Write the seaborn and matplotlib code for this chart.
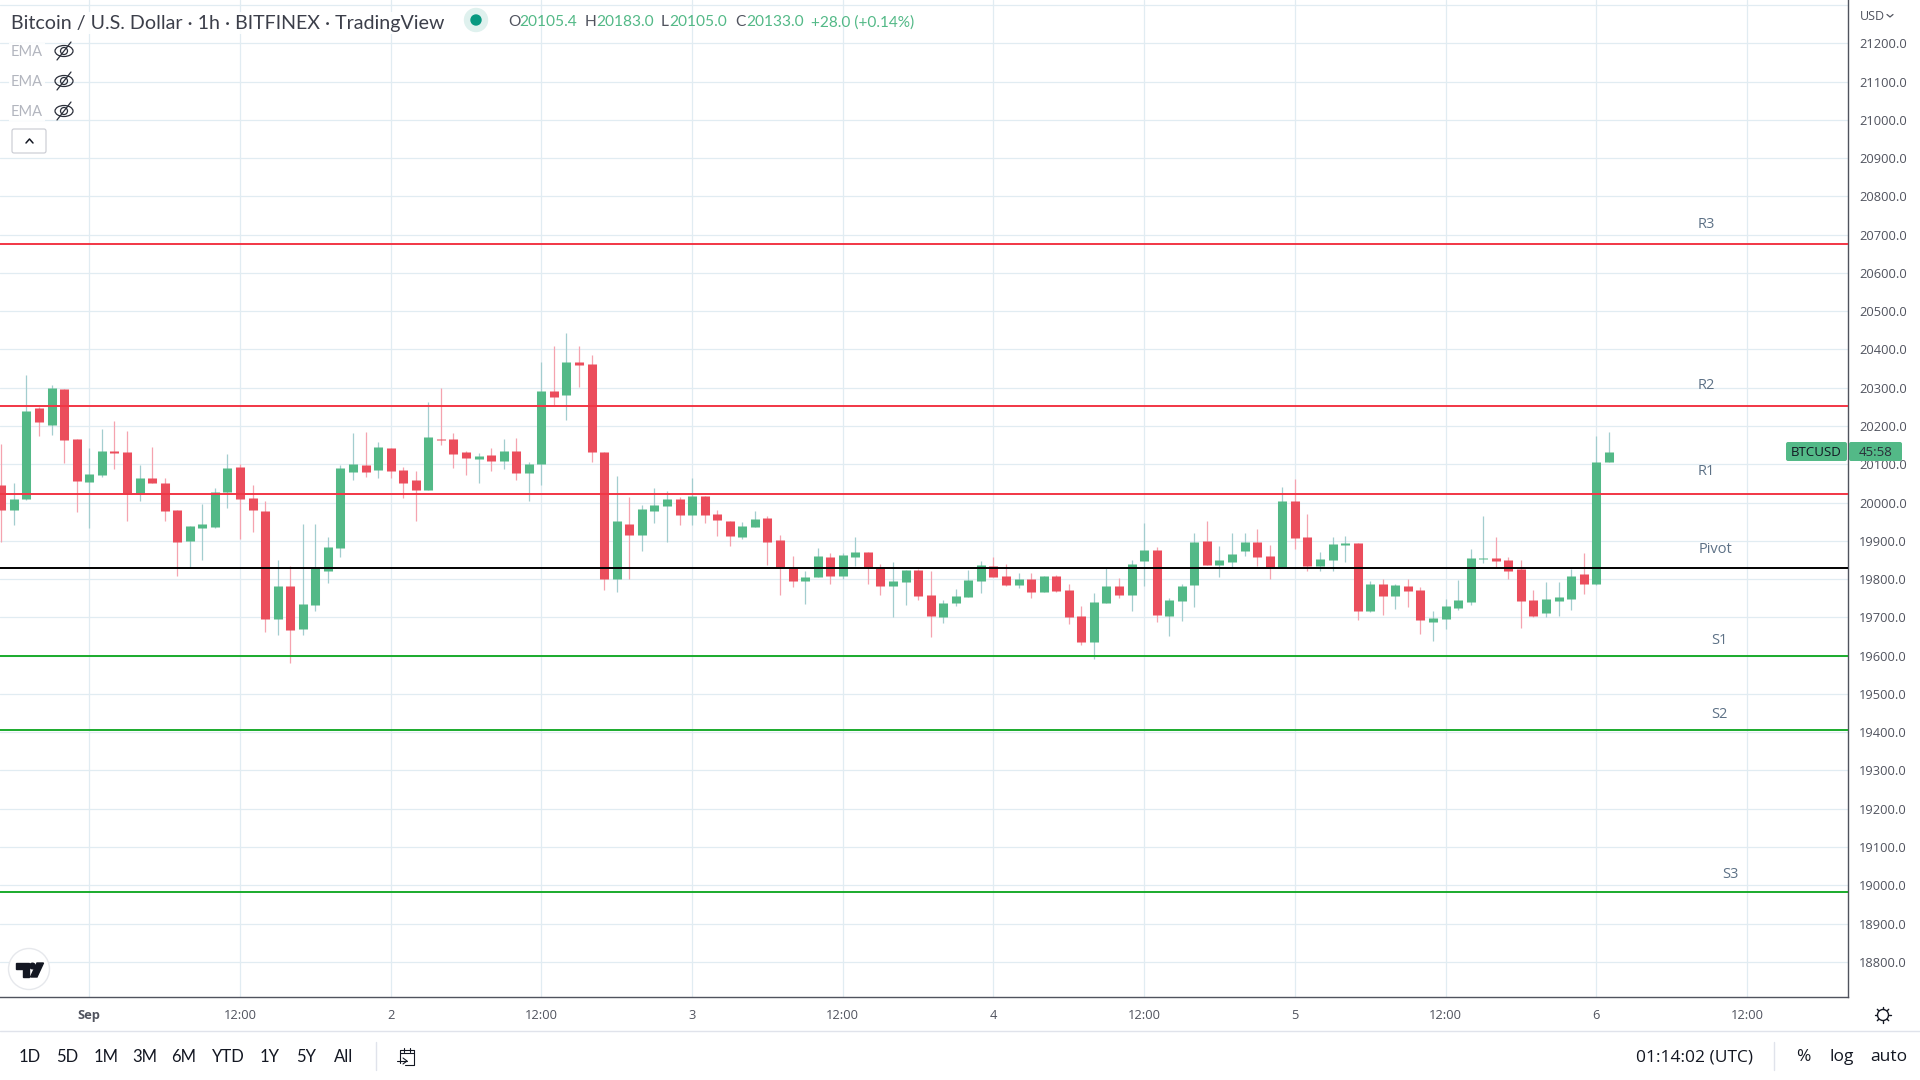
import matplotlib
matplotlib.use("Agg")
import matplotlib.pyplot as plt
import matplotlib.patches as mpatches
import pandas as pd
import seaborn as sns

# Hourly candles, hour 0 = 1 Sep 00:00
hours = list(range(-7, 122))
opens = [20046, 19980, 20009, 20247, 20203, 20297, 20166, 20054, 20072, 20135, 20132, 20022, 20064, 20051, 19980, 19900,
         19933, 19936, 20028, 20093, 20012, 19978, 19696, 19782, 19670, 19732, 19821, 19881, 20080, 20098, 20085, 20142,
         20085, 20059, 20033, 20166, 20166, 20132, 20114, 20124, 20109, 20135, 20077, 20101, 20291, 20281, 20367, 20362,
         20132, 19800, 19944, 19915, 19978, 19991, 20009, 19967, 20017, 19970, 19952, 19910, 19936, 19960, 19902, 19829,
         19795, 19805, 19858, 19808, 19858, 19871, 19829, 19782, 19792, 19824, 19758, 19701, 19738, 19753, 19795, 19834,
         19808, 19785, 19800, 19766, 19808, 19772, 19704, 19636, 19738, 19782, 19758, 19847, 19876, 19704, 19743, 19785,
         19900, 19837, 19845, 19873, 19897, 19860, 19832, 20004, 19910, 19834, 19850, 19889, 19894, 19717, 19787, 19756,
         19782, 19772, 19688, 19696, 19724, 19740, 19853, 19855, 19850, 19826, 19745, 19711, 19743, 19748, 19813, 19787,
         20105]
closes = [19980, 20009, 20239, 20210, 20299, 20163, 20056, 20075, 20135, 20129, 20022, 20064, 20051, 19978, 19897, 19939,
          19944, 20028, 20090, 20009, 19980, 19696, 19782, 19667, 19735, 19829, 19884, 20090, 20101, 20080, 20145, 20082,
          20051, 20033, 20171, 20163, 20127, 20116, 20122, 20109, 20135, 20077, 20101, 20291, 20276, 20367, 20359, 20132,
          19800, 19952, 19915, 19983, 19994, 20009, 19967, 20017, 19967, 19954, 19913, 19939, 19957, 19897, 19829, 19795,
          19805, 19860, 19808, 19863, 19871, 19829, 19782, 19795, 19824, 19756, 19704, 19738, 19756, 19798, 19837, 19806,
          19785, 19800, 19766, 19808, 19769, 19701, 19636, 19740, 19782, 19758, 19839, 19876, 19706, 19745, 19782, 19897,
          19837, 19850, 19866, 19897, 19858, 19832, 20004, 19907, 19834, 19853, 19892, 19894, 19717, 19787, 19756, 19785,
          19769, 19693, 19698, 19730, 19745, 19855, 19855, 19847, 19821, 19743, 19704, 19748, 19753, 19808, 19787, 20106,
          20133]
highs = [20153, 20051, 20333, 20250, 20307, 20297, 20166, 20142, 20192, 20213, 20187, 20098, 20145, 20064, 19980, 19939,
         19996, 20038, 20127, 20101, 20046, 20004, 19850, 19834, 19944, 19944, 19910, 20098, 20182, 20184, 20158, 20142,
         20093, 20082, 20263, 20299, 20182, 20135, 20129, 20142, 20166, 20169, 20106, 20367, 20409, 20443, 20409, 20385,
         20132, 20069, 20014, 19994, 20038, 20030, 20014, 20064, 20017, 19980, 19952, 19949, 19978, 19965, 19915, 19860,
         19821, 19881, 19868, 19868, 19910, 19871, 19839, 19845, 19824, 19826, 19821, 19745, 19774, 19824, 19847, 19858,
         19839, 19816, 19816, 19808, 19811, 19787, 19730, 19764, 19829, 19803, 19850, 19947, 19884, 19751, 19787, 19920,
         19952, 19887, 19920, 19920, 19931, 19889, 20041, 20062, 19970, 19871, 19910, 19913, 19894, 19795, 19800, 19787,
         19800, 19779, 19717, 19748, 19798, 19879, 19965, 19910, 19858, 19850, 19772, 19792, 19792, 19826, 19868, 20174,
         20183]
lows = [19898, 19941, 20007, 20174, 20176, 20103, 19975, 19933, 20067, 20088, 19952, 20004, 20051, 19952, 19808, 19829,
        19850, 19933, 19986, 19905, 19923, 19662, 19654, 19581, 19654, 19717, 19790, 19858, 20059, 20067, 20064, 20064,
        20012, 19952, 20033, 20150, 20090, 20072, 20051, 20082, 20088, 20059, 20004, 20046, 20255, 20216, 20302, 20106,
        19771, 19766, 19800, 19873, 19947, 19897, 19941, 19941, 19947, 19913, 19886, 19905, 19936, 19837, 19758, 19779,
        19735, 19805, 19787, 19800, 19834, 19787, 19758, 19701, 19732, 19745, 19649, 19685, 19730, 19753, 19764, 19806,
        19782, 19777, 19751, 19766, 19766, 19683, 19628, 19591, 19738, 19751, 19717, 19782, 19688, 19651, 19691, 19727,
        19837, 19806, 19832, 19860, 19834, 19800, 19832, 19879, 19821, 19821, 19821, 19845, 19693, 19714, 19706, 19722,
        19727, 19657, 19638, 19670, 19719, 19732, 19842, 19832, 19800, 19672, 19701, 19701, 19704, 19719, 19761, 19785,
        20105]

# Pivot levels
level_names = ["R3", "R2", "R1", "Pivot", "S1", "S2", "S3"]
level_prices = [20676, 20252, 20022, 19829, 19599, 19406, 18982]
level_colors = ["#f23645", "#f23645", "#f23645", "#000000", "#1aab2c", "#1aab2c", "#1aab2c"]
level_label_hours = [128.8, 128.8, 128.8, 129.5, 129.8, 129.8, 130.7]
level_label_offsets = [14, 14.9, 16.3, 13.1, 11.4, 11.4, 12.8]

price_ticks = list(range(18800, 21300, 100))
time_ticks = list(range(0, 144, 12))
time_labels = ["Sep", "12:00", "2", "12:00", "3", "12:00", "4", "12:00", "5", "12:00", "6", "12:00"]
range_buttons = ["1D", "5D", "1M", "3M", "6M", "YTD", "1Y", "5Y", "All"]
button_x = [30, 67, 106, 145, 184, 228, 270, 306, 344]

GREEN = "#53b987"
RED = "#eb4d5c"
GRID = "#e1ecf2"
AXIS = "#50535e"

sns.set_theme(style="white")
plt.rcParams["font.family"] = ["Open Sans", "DejaVu Sans"]

candles = pd.DataFrame({"hour": hours, "open": opens, "close": closes, "high": highs, "low": lows})
candles["side"] = ["up" if c >= o else "down" for o, c in zip(opens, closes)]

wicks = candles.melt(id_vars=["hour", "side"], value_vars=["high", "low"], value_name="price")
bodies = candles.melt(id_vars=["hour", "side"], value_vars=["open", "close"], value_name="price")

fig = plt.figure(figsize=(19.2, 10.8), dpi=100, facecolor="white")
ax = fig.add_axes([0, 83 / 1080, 1848 / 1920, 997 / 1080])

sns.lineplot(data=wicks, x="hour", y="price", units="hour", hue="side", estimator=None, legend=False,
             palette={"up": "#a3cdcf", "down": "#f5a3af"}, linewidth=0.9, solid_capstyle="butt", ax=ax, zorder=2)
sns.lineplot(data=bodies, x="hour", y="price", units="hour", hue="side", estimator=None, legend=False,
             palette={"up": GREEN, "down": RED}, linewidth=6.5, solid_capstyle="butt", ax=ax, zorder=3)

for name, price, color, hour, offset in zip(level_names, level_prices, level_colors, level_label_hours, level_label_offsets):
    ax.axhline(price, color=color, linewidth=1.4, zorder=4)
    ax.annotate(name, xy=(hour, price), xytext=(0, offset), textcoords="offset points", ha="center", va="center",
                fontsize=10.5, color="#5d7186", annotation_clip=False)

ax.set_xlim(-7.11, 140.05)
ax.set_ylim(18708, 21313)
ax.set_xlabel("")
ax.set_ylabel("")

ax.set_yticks(price_ticks)
ax.set_yticklabels([f"{p}.0" for p in price_ticks], fontsize=9.3, color="#50535e")
ax.set_yticks([21300], minor=True)
ax.yaxis.tick_right()
ax.tick_params(axis="y", which="both", length=0, pad=8)
ax.set_xticks(time_ticks)
ax.set_xticklabels(time_labels, fontsize=9.3, color="#50535e")
ax.get_xticklabels()[0].set_fontweight("bold")
ax.tick_params(axis="x", length=0, pad=8.8)
ax.grid(True, which="both", color=GRID, linewidth=0.9, zorder=0)
ax.set_axisbelow(True)
ax.spines["top"].set_visible(False)
ax.spines["left"].set_visible(False)
for side in ["right", "bottom"]:
    ax.spines[side].set_color(AXIS)
    ax.spines[side].set_linewidth(1.0)

# Overlay in screen pixels for the chart furniture
ui = fig.add_axes([0, 0, 1, 1], zorder=10)
ui.set_xlim(0, 1920)
ui.set_ylim(1080, 0)
ui.axis("off")
ui.patch.set_alpha(0)

white_box = dict(facecolor="white", edgecolor="none", pad=1.5, alpha=0.9)
ui.text(11, 23, "Bitcoin / U.S. Dollar · 1h · BITFINEX · TradingView", fontsize=14.15, family="Lato",
        color="#3c3f4a", va="center", bbox=white_box)
ui.add_patch(mpatches.Circle((476, 20), 11.5, color="#dff1ee", zorder=3))
ui.add_patch(mpatches.Circle((476, 20), 5, color="#089981", zorder=4))

ohlc = [("O", 508, "20105.4", 519), ("H", 585, "20183.0", 596), ("L", 661, "20105.0", 669), ("C", 735, "20133.0", 746)]
for letter, lx, value, vx in ohlc:
    ui.text(lx, 22.5, letter, fontsize=11.2, family="Lato", color="#50535e", va="center")
    ui.text(vx, 22.5, value, fontsize=11.2, family="Lato", color=GREEN, va="center")
ui.text(811, 22.5, "+28.0 (+0.14%)", fontsize=11.1, family="Lato", color=GREEN, va="center")

for y in [51, 81, 111]:
    ui.text(11, y + 1, "EMA", fontsize=10.5, family="Lato", color="#b2b5be", va="center", bbox=white_box)
    ui.add_patch(mpatches.Ellipse((64, y), 18, 11, fill=False, edgecolor="#2a2e39", linewidth=0.9))
    ui.add_patch(mpatches.Circle((64, y), 3.5, fill=False, edgecolor="#2a2e39", linewidth=0.9))
    ui.plot([57, 71], [y + 9, y - 9], color="#2a2e39", linewidth=0.9)

ui.add_patch(mpatches.FancyBboxPatch((12, 129), 34, 24, boxstyle="round,pad=0,rounding_size=2",
                                     facecolor="white", edgecolor="#c8cad2", linewidth=0.8))
ui.plot([26, 29.5, 33], [143, 139, 143], color="#131722", linewidth=1.1)

# TradingView mark
ui.add_patch(mpatches.Circle((29, 969), 20.5, facecolor="white", edgecolor="#e6e8ec", linewidth=1))
ui.add_patch(mpatches.Polygon([(16, 963), (29, 963), (29, 977), (22.5, 977), (22.5, 969), (16, 969)], color="#131722"))
ui.add_patch(mpatches.Circle((32.5, 966), 2.8, color="#131722"))
ui.add_patch(mpatches.Polygon([(37, 963), (43.5, 963), (37, 977), (30.5, 977)], color="#131722"))

# Price scale header and last price tag
ui.text(1860, 16.5, "USD", fontsize=9, color="#50535e", va="center")
ui.plot([1887, 1890, 1893], [14.5, 17, 14.5], color="#50535e", linewidth=0.9)
ui.add_patch(mpatches.FancyBboxPatch((1786, 442), 61, 19, boxstyle="round,pad=0,rounding_size=2",
                                     facecolor=GREEN, edgecolor="none"))
ui.add_patch(mpatches.FancyBboxPatch((1849, 442), 53, 19, boxstyle="round,pad=0,rounding_size=2",
                                     facecolor=GREEN, edgecolor="none"))
ui.text(1816, 452.5, "BTCUSD", fontsize=9.5, color="#131722", ha="center", va="center")
ui.text(1876, 452.5, "45:58", fontsize=9.5, color="#2a2e39", ha="center", va="center")

# Bottom toolbar
ui.plot([0, 1920], [1031, 1031], color="#e0e3eb", linewidth=1)
for label, x in zip(range_buttons, button_x):
    ui.text(x, 1057, label, fontsize=12, family="Lato", color="#131722", ha="center", va="center")
ui.plot([375.5, 375.5], [1042, 1070], color="#e0e3eb", linewidth=1)
ui.plot([1774, 1774], [1042, 1070], color="#e0e3eb", linewidth=1)
ui.text(1695, 1057, "01:14:02 (UTC)", fontsize=12.5, color="#131722", ha="center", va="center")
ui.text(1803, 1057, "%", fontsize=12.5, color="#131722", ha="center", va="center")
ui.text(1842, 1057, "log", fontsize=12.5, color="#131722", ha="center", va="center")
ui.text(1889, 1057, "auto", fontsize=12.5, color="#131722", ha="center", va="center")

# Calendar icon
ui.plot([400, 400, 414, 414, 405], [1063, 1050, 1050, 1065, 1065], color="#131722", linewidth=0.8)
ui.plot([400, 414], [1053, 1053], color="#131722", linewidth=0.8)
ui.plot([404, 404], [1048, 1052], color="#131722", linewidth=0.8)
ui.plot([410, 410], [1048, 1052], color="#131722", linewidth=0.8)
ui.plot([397, 407], [1061, 1061], color="#131722", linewidth=0.8)
ui.plot([403, 407, 403], [1058, 1061, 1064], color="#131722", linewidth=0.8)

# Settings gear
ui.add_patch(mpatches.Circle((1883, 1015), 5.5, fill=False, edgecolor="#131722", linewidth=1))
for dx, dy in [(0, -8), (0, 8), (8, 0), (-8, 0), (5.7, 5.7), (-5.7, 5.7), (5.7, -5.7), (-5.7, -5.7)]:
    ui.plot([1883 + dx * 0.75, 1883 + dx], [1015 + dy * 0.75, 1015 + dy], color="#131722", linewidth=1)

fig.savefig("out.png", dpi=100)
